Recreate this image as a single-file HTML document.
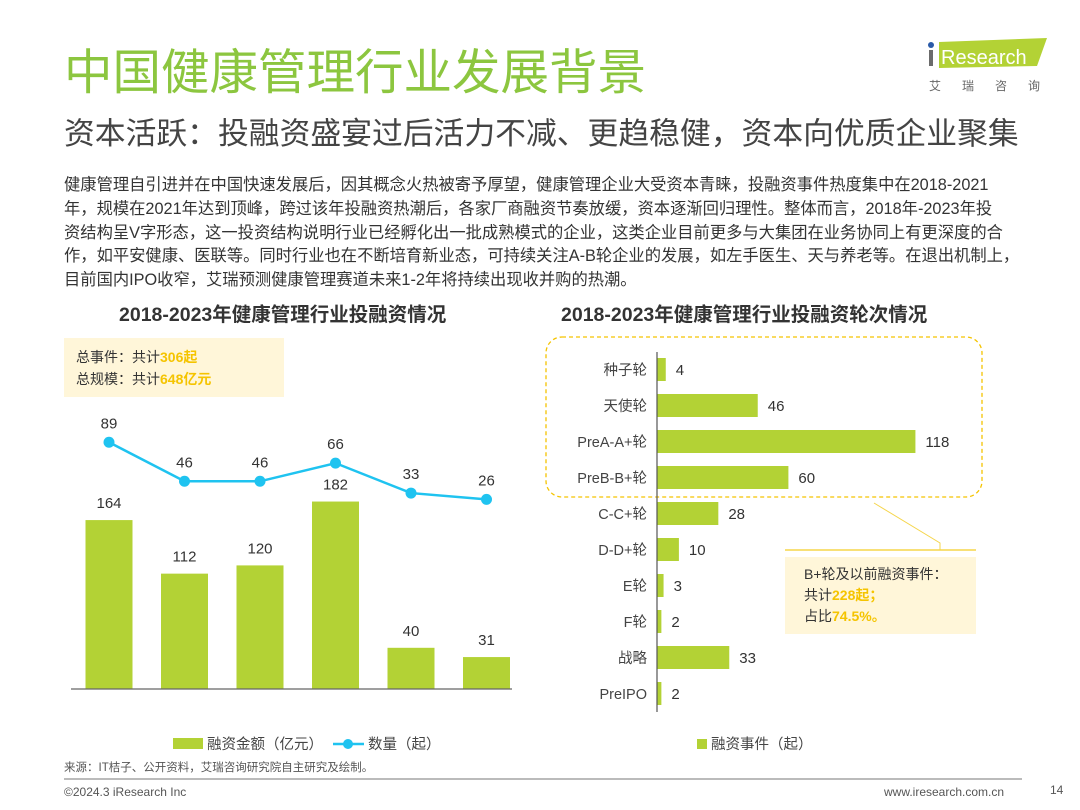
<!DOCTYPE html>
<html><head><meta charset="utf-8"><style>
body{margin:0;width:1080px;height:810px;background:#fff;position:relative;overflow:hidden;font-family:"Liberation Sans","Noto Sans CJK SC",sans-serif;color:#333}
.abs{position:absolute;white-space:nowrap}
.y{color:#f5c400;font-weight:bold}
</style></head><body>
<div class="abs" style="left:64px;top:45px;font-size:48.5px;color:#8cc63f;line-height:56px">中国健康管理行业发展背景</div>
<div class="abs" style="left:64px;top:114px;font-size:30.8px;color:#444;line-height:40px">资本活跃：投融资盛宴过后活力不减、更趋稳健，资本向优质企业聚集</div>
<div class="abs" style="left:925px;top:34px;width:125px;height:62px">
<svg width="125" height="62"><polygon points="14,8 122,4 112,32 14,34" fill="#b3d235"/><circle cx="6" cy="11" r="3" fill="#2a5aa8"/><rect x="4" y="16" width="4" height="16" fill="#6b6b6b"/><text x="16" y="30" font-size="20" fill="#fff" font-family="Liberation Sans">Research</text><text x="4" y="56" font-size="12" fill="#666" letter-spacing="21" font-family="Noto Sans CJK SC">艾瑞咨询</text></svg></div>
<div class="abs" style="left:64px;top:174px;font-size:16.3px;line-height:23.8px;color:#333">健康管理自引进并在中国快速发展后，因其概念火热被寄予厚望，健康管理企业大受资本青睐，投融资事件热度集中在2018-2021<br>年，规模在2021年达到顶峰，跨过该年投融资热潮后，各家厂商融资节奏放缓，资本逐渐回归理性。整体而言，2018年-2023年投<br>资结构呈V字形态，这一投资结构说明行业已经孵化出一批成熟模式的企业，这类企业目前更多与大集团在业务协同上有更深度的合<br>作，如平安健康、医联等。同时行业也在不断培育新业态，可持续关注A-B轮企业的发展，如左手医生、天与养老等。在退出机制上，<br>目前国内IPO收窄，艾瑞预测健康管理赛道未来1-2年将持续出现收并购的热潮。</div>
<div class="abs" style="left:119px;top:298px;font-size:19.5px;font-weight:bold;color:#333">2018-2023年健康管理行业投融资情况</div>
<div class="abs" style="left:561px;top:298px;font-size:19.5px;font-weight:bold;color:#333">2018-2023年健康管理行业投融资轮次情况</div>
<div class="abs" style="left:64px;top:338px;width:220px;height:59px;background:#fff6d9;font-size:14px;line-height:22px;padding:8px 0 0 12px;box-sizing:border-box">总事件：共计<span class="y">306起</span><br>总规模：共计<span class="y">648亿元</span></div>
<svg class="abs" style="left:0;top:0" width="1080" height="810" id="charts"></svg>
<div class="abs" style="left:785px;top:557px;width:191px;height:77px;background:#fff6d9;font-size:14px;line-height:21px;padding:7px 0 0 19px;box-sizing:border-box">B+轮及以前融资事件：<br>共计<span class="y">228起；</span><br>占比<span class="y">74.5%。</span></div>
<div class="abs" style="left:64px;top:759px;font-size:11.5px;color:#555">来源：IT桔子、公开资料，艾瑞咨询研究院自主研究及绘制。</div>
<div class="abs" style="left:64px;top:778px;width:958px;height:2px;background:#bbb"></div>
<div class="abs" style="left:64px;top:785px;font-size:12px;color:#555">©2024.3 iResearch Inc</div>
<div class="abs" style="left:884px;top:785px;font-size:12px;color:#555">www.iresearch.com.cn</div>
<div class="abs" style="left:1050px;top:783px;font-size:12px;color:#555">14</div>
<script>
const years=["2018","2019","2020","2021","2022","202"];
const amounts=[164,112,120,182,40,31];
const counts=[89,46,46,66,33,26];
const rounds=["种子轮","天使轮","PreA-A+轮","PreB-B+轮","C-C+轮","D-D+轮","E轮","F轮","战略","PreIPO"];
const roundCounts=[4,46,118,60,28,10,3,2,33,2];
const NS="http://www.w3.org/2000/svg";
const svg=document.getElementById('charts');
function mk(t,a,p){const e=document.createElementNS(NS,t);for(const k in a)e.setAttribute(k,a[k]);(p||svg).appendChild(e);return e;}
const G="#b3d235",B="#1fc3f0";
const base=689, xAt=i=>109+i*75.5, yBar=v=>base-v*1.03, yLine=v=>523-v*0.907;
const clip=mk('clipPath',{id:'lc'});mk('rect',{x:60,y:400,width:452,height:300},clip);
const gL=mk('g',{'clip-path':'url(#lc)'});
amounts.forEach((v,i)=>{
 const r=mk('rect',{x:xAt(i)-23.5,y:yBar(v),width:47,height:v*1.03,fill:G},gL);
 
 
 const t=mk('text',{x:xAt(i),y:yBar(v)-12,'font-size':15,'text-anchor':'middle',fill:'#333'},gL);t.textContent=v;
 
 
 const yl=mk('text',{x:xAt(i),y:714,'font-size':15,'text-anchor':'middle',fill:'#444'},gL);yl.textContent=years[i];
 
 
});
mk('line',{x1:71,y1:base,x2:512,y2:base,stroke:'#666','stroke-width':1.2});
const pts=counts.map((v,i)=>xAt(i)+','+yLine(v)).join(' ');
const pl=mk('polyline',{points:pts,fill:'none',stroke:B,'stroke-width':2.5});


counts.forEach((v,i)=>{
 const c=mk('circle',{cx:xAt(i),cy:yLine(v),r:5.5,fill:B});
 
 
 const t=mk('text',{x:xAt(i),y:yLine(v)-14,'font-size':15,'text-anchor':'middle',fill:'#333'});t.textContent=v;
 
 
});
let lg=mk('rect',{x:173,y:738,width:30,height:11,fill:G});


let lt=mk('text',{x:207,y:749,'font-size':14.5,fill:'#444'});lt.textContent='融资金额（亿元）';


mk('line',{x1:333,y1:744,x2:364,y2:744,stroke:B,'stroke-width':2.5});
mk('circle',{cx:348,cy:744,r:5,fill:B});
lt=mk('text',{x:368,y:749,'font-size':14.5,fill:'#444'});lt.textContent='数量（起）';


const ax=657, yR=i=>369.5+i*36, xR=v=>v*2.19;
const db=mk('rect',{x:546,y:337,width:436,height:160,rx:16,fill:'none',stroke:'#f5c400','stroke-width':1.3,'stroke-dasharray':'4,3'});


mk('polyline',{points:'874,503 940,543 940,550',fill:'none',stroke:'#f5d54a','stroke-width':1});
mk('line',{x1:785,y1:550,x2:976,y2:550,stroke:'#f5d54a','stroke-width':1.5});
rounds.forEach((n,i)=>{
 const r=mk('rect',{x:ax,y:yR(i)-11.5,width:xR(roundCounts[i]),height:23,fill:G});
 
 
 const t=mk('text',{x:ax+xR(roundCounts[i])+10,y:yR(i)+5.5,'font-size':15,fill:'#333'});t.textContent=roundCounts[i];
 
 
 const c=mk('text',{x:647,y:yR(i)+5.5,'font-size':14.5,'text-anchor':'end',fill:'#444'});c.textContent=n;
 
 
});
mk('line',{x1:ax,y1:352,x2:ax,y2:712,stroke:'#555','stroke-width':1.2});
lg=mk('rect',{x:697,y:739,width:10,height:10,fill:G});


lt=mk('text',{x:711,y:749,'font-size':14.5,fill:'#444'});lt.textContent='融资事件（起）';


</script>
</body></html>
